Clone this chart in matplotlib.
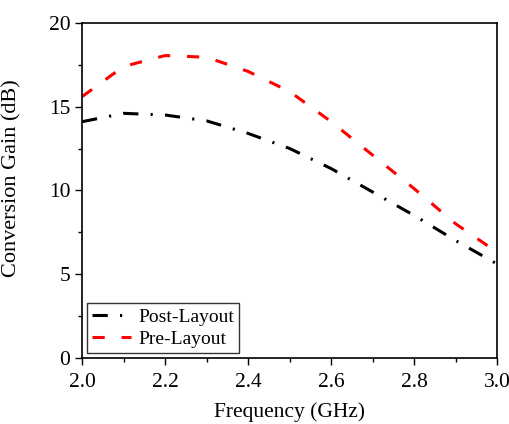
import matplotlib
matplotlib.use("Agg")
import matplotlib.pyplot as plt

plt.rcParams['font.family'] = ['Liberation Serif', 'DejaVu Serif']

freq = [2.0, 2.1, 2.2, 2.3, 2.4, 2.5, 2.6, 2.7, 2.8, 2.9, 3.0]
post_layout = [14.1, 14.6, 14.5, 14.15, 13.4, 12.5, 11.3, 9.9, 8.5, 7.0, 5.6]
pre_layout = [15.6, 17.4, 18.05, 17.95, 17.1, 15.9, 14.1, 12.1, 10.1, 8.0, 6.3]

fig = plt.figure(figsize=(5.1, 4.24), dpi=100)
ax = fig.add_axes([0.161, 0.156, 0.814, 0.79])

ax.plot(freq, post_layout, color='black', lw=2.2, dashes=(5, 4, 0.7, 4), label='Post-Layout')
ax.plot(freq, pre_layout, color='red', lw=2.2, dashes=(4, 5.5), label='Pre-Layout')

ax.set_xlim(2.0, 3.0)
ax.set_ylim(0, 20)
ax.set_xticks([2.0, 2.2, 2.4, 2.6, 2.8, 3.0])
ax.set_xticks([2.1, 2.3, 2.5, 2.7, 2.9], minor=True)
ax.set_yticks([0, 5, 10, 15, 20])
ax.set_yticks([2.5, 7.5, 12.5, 17.5], minor=True)
ax.tick_params(which='major', direction='out', length=5, width=1, labelsize=15.5)
ax.tick_params(axis='x', which='major', pad=6)
ax.tick_params(which='minor', direction='out', length=3, width=1)
for s in ax.spines.values():
    s.set_linewidth(1.2)

ax.set_xlabel('Frequency (GHz)', fontsize=15.5, labelpad=7)
ax.set_ylabel('Conversion Gain (dB)', fontsize=16)
ax.yaxis.set_label_coords(-0.145, 0.537)

leg = ax.legend(loc='lower left', fontsize=14, frameon=True, fancybox=False,
                edgecolor='black', handlelength=2.0, borderpad=0.25,
                handletextpad=0.4, labelspacing=0.25, borderaxespad=0.25)
leg.get_frame().set_linewidth(1.0)

fig.savefig('out.png', dpi=100)
